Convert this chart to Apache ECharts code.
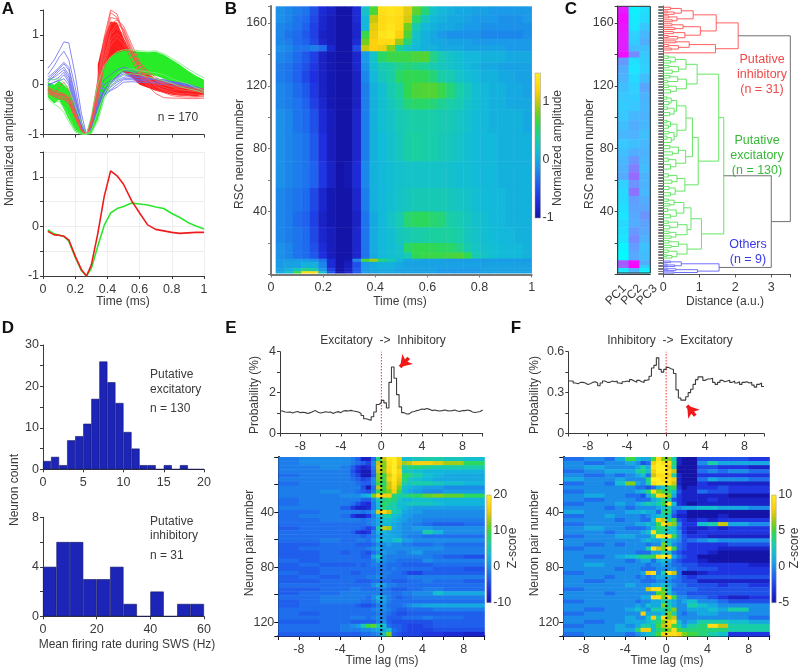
<!DOCTYPE html>
<html>
<head>
<meta charset="utf-8">
<script src="https://cdn.jsdelivr.net/npm/echarts@6/dist/echarts.min.js"></script>
<style>
  html, body { margin: 0; background: #fff; }
  #chart { width: 800px; height: 668px; }
  #chart canvas { filter: blur(.4px); }
</style>
</head>
<body>
<div id="chart"></div>
<script>
// Panel A: waveforms
const waveT = [.03,.07,.1,.13,.16,.2,.24,.27,.3,.34,.38,.42,.46,.5,.55,.6,.65,.7,.75,.8,.85,.9,.95,1];
const blueTraces = [
  [.33,.5,.68,.86,.84,.2,-.6,-1,-.7,-.2,.1,.2,.3,.35,.3,.22,.14,.1,.05,.04,0,-.03,-.08,-.12],
  [.2,.38,.55,.67,.5,-.05,-.75,-1,-.75,-.3,0,.08,.15,.3,.25,.18,.13,.1,.07,.05,.02,-.02,-.05,-.1],
  [.15,.25,.35,.45,.35,-.2,-.8,-1,-.8,-.35,-.1,.05,.18,.25,.2,.15,.12,.1,.1,.05,.05,0,-.05,-.1],
  [.1,.22,.32,.42,.3,-.25,-.8,-1,-.82,-.38,-.12,.02,.12,.2,.18,.14,.14,.12,.08,.06,.03,0,-.06,-.1],
  [.05,.18,.28,.35,.2,-.3,-.85,-1,-.82,-.4,-.15,-.02,.08,.15,.16,.14,.12,.1,.06,.02,.04,.02,-.04,-.12],
  [.1,.15,.22,.3,.15,-.35,-.85,-1,-.85,-.42,-.12,.05,.15,.22,.14,.1,.1,.12,.1,.06,.02,-.02,-.06,-.1],
  [.1,.1,.15,.25,.1,-.4,-.88,-1,-.85,-.45,-.18,-.05,.05,.12,.12,.1,.08,.06,.04,.02,0,-.03,-.08,-.1],
  [0,.05,.1,.2,.05,-.45,-.9,-1,-.85,-.45,-.2,-.1,0,.1,.1,.08,.06,.04,.03,.02,0,-.04,-.08,-.12],
  [-.02,.05,.08,.12,0,-.5,-.9,-1,-.88,-.48,-.22,-.12,-.05,.05,.06,.05,.04,.02,0,-.02,-.03,-.05,-.1,-.12]
];
const redBandT = [.34,.38,.42,.46,.5,.55,.6,.65,.7,.75,.8,.85,.9,.95,1];
const redBandUp = [.4,.95,1.27,1.25,.95,.62,.36,.22,.12,.06,.02,0,-.03,-.05,-.06];
const redBandLow = [-.45,0,.2,.3,.25,.15,0,-.06,-.12,-.16,-.2,-.22,-.22,-.23,-.2];
const redTraces = [
  [-.05,-.12,-.15,-.18,-.25,-.55,-.9,-1,-.7,.1,.95,1.5,1.42,1.02,.62,.38,.2,.08,0,-.03,-.06,-.08,-.1,-.1],
  [-.1,-.18,-.2,-.22,-.3,-.6,-.9,-1,-.72,.05,.85,1.45,1.35,1.1,.7,.42,.28,.15,.05,.02,-.02,-.05,-.08,-.08],
  [-.12,-.2,-.22,-.25,-.32,-.62,-.92,-1,-.75,0,.8,1.35,1.32,1.05,.65,.3,.12,.02,-.05,-.1,-.1,-.12,-.12,-.12],
  [-.08,-.15,-.2,-.2,-.28,-.58,-.9,-1,-.75,-.05,.7,1.22,1.3,1.18,.82,.46,.25,.1,.02,-.05,-.1,-.12,-.14,-.15],
  [-.15,-.22,-.25,-.28,-.35,-.65,-.92,-1,-.8,-.2,.5,1,1.15,1,.66,.28,.04,-.1,-.16,-.22,-.24,-.25,-.25,-.24],
  [-.18,-.24,-.28,-.3,-.38,-.68,-.94,-1,-.82,-.3,.35,.8,.95,.82,.5,.2,-.02,-.18,-.26,-.27,-.27,-.28,-.28,-.27],
  [-.1,-.16,-.18,-.2,-.3,-.6,-.9,-1,-.78,-.15,.55,1.05,1.22,1.12,.75,.38,.12,-.04,-.12,-.18,-.2,-.22,-.24,-.22],
  [-.2,-.18,-.05,.05,-.1,-.55,-.9,-1,-.8,-.25,.45,.9,1.02,.9,.6,.3,.1,-.02,-.1,-.14,-.18,-.18,-.2,-.2]
];
const greenBandT = waveT;
const greenBandUp = [.05,0,.08,0,-.1,-.45,-.8,-1,-.65,-.02,.35,.55,.64,.68,.68,.66,.65,.66,.6,.5,.4,.28,.18,.1];
const greenBandLow = [-.25,-.38,-.3,-.5,-.7,-.93,-1,-1,-.98,-.7,-.25,.02,.17,.27,.25,.22,.2,.18,.12,.05,0,-.05,-.1,-.15];
const greenTraces = [
  [.12,.1,.12,.05,-.08,-.42,-.78,-1,-.62,.02,.38,.56,.66,.7,.7,.68,.67,.68,.62,.53,.43,.32,.22,.14],
  [-.28,-.4,-.45,-.56,-.74,-.95,-1,-1,-.98,-.74,-.3,-.04,.1,.2,.22,.2,.16,.12,.08,.03,-.04,-.08,-.12,-.17],
  [-.18,-.3,-.34,-.45,-.62,-.9,-.98,-1,-.92,-.55,-.18,.06,.22,.3,.32,.28,.26,.24,.2,.12,.06,.02,-.06,-.12]
];
const redMean = [-.1,-.17,-.18,-.2,-.27,-.6,-.88,-1,-.78,-.15,.6,1.12,1.02,.85,.52,.27,.03,-.06,-.09,-.12,-.14,-.13,-.12,-.12];
const greenMean = [-.07,-.15,-.18,-.2,-.3,-.62,-.9,-1,-.85,-.4,.02,.27,.36,.4,.47,.45,.43,.39,.36,.26,.18,.08,.01,-.05];

// Panel B: amplitude map, rows from top to bottom
const bEdges = [170.6,165,160,155,150,146,142,135,130,122,112,105,90,72,55,40,30,20,14,10,8,4,2,.9];
const bRows = [
  [-.15,-.2,-.25,-.3,-.5,-.75,-.85,-1,-1,-.75,.2,.7,1.35,1.4,1.35,1.1,.75,.5,.2,.1,.05,0,0,-.05,-.05,-.1,-.1,-.1,-.1,-.1],
  [-.15,-.2,-.3,-.35,-.55,-.8,-.9,-1,-1,-.75,.1,1,1.3,1.35,1.3,1.05,.55,.25,.1,.05,0,0,-.05,-.1,-.1,-.1,-.15,-.15,-.15,-.1],
  [-.2,-.25,-.3,-.4,-.6,-.8,-.9,-1,-1,-.8,.1,1.1,1.3,1.4,1.3,.8,.3,.1,.05,0,0,-.05,-.1,-.1,-.15,-.15,-.15,-.15,-.15,-.15],
  [-.2,-.3,-.35,-.45,-.6,-.85,-.9,-1,-1,-.8,.65,1.15,1.4,1.45,1.2,.7,.2,.05,0,-.1,-.15,-.15,-.15,-.15,-.2,-.2,-.2,-.2,-.2,-.15],
  [-.2,-.25,-.35,-.4,-.55,-.8,-.9,-1,-1,-.75,.8,1.2,1.3,1.3,.9,.5,.15,.05,0,0,-.05,-.05,-.05,-.1,-.1,-.1,-.1,-.1,-.1,-.1],
  [-.15,-.2,-.3,-.3,-.25,-.35,-.8,-1,-1,-.55,1,1.2,1.15,.85,.4,.2,.1,.05,.05,0,0,0,-.05,-.05,-.05,-.05,-.05,-.1,-.1,-.1],
  [-.2,-.25,-.35,-.45,-.6,-.85,-.95,-1,-1,-.8,-.1,.2,.55,.65,.65,.65,.7,.72,.45,.3,.2,.15,.1,.1,.05,.05,.05,0,0,0],
  [-.25,-.3,-.4,-.5,-.65,-.85,-.95,-1,-1,-.8,-.15,.15,.3,.35,.45,.5,.45,.4,.3,.25,.2,.15,.1,.05,0,0,-.05,-.05,-.05,-.05],
  [-.25,-.3,-.4,-.55,-.7,-.85,-.95,-1,-1,-.85,-.2,.1,.25,.35,.55,.62,.62,.6,.5,.35,.3,.2,.15,.1,.05,.05,0,0,-.05,-.05],
  [-.2,-.25,-.35,-.45,-.65,-.85,-.95,-1,-1,-.85,-.25,.05,.15,.3,.4,.62,.7,.72,.72,.65,.5,.35,.25,.15,.1,.05,.05,0,0,-.05],
  [-.2,-.25,-.3,-.4,-.6,-.8,-.95,-1,-1,-.85,-.25,.05,.15,.25,.35,.5,.55,.55,.5,.42,.35,.3,.2,.15,.1,.05,.05,0,0,0],
  [-.15,-.2,-.3,-.35,-.5,-.75,-.9,-1,-1,-.8,-.25,.05,.15,.2,.28,.32,.35,.35,.33,.3,.28,.22,.18,.12,.1,.05,.05,.05,.05,0],
  [-.15,-.2,-.25,-.3,-.45,-.7,-.9,-1,-1,-.8,-.25,.05,.12,.18,.25,.35,.38,.35,.32,.28,.25,.2,.15,.12,.1,.1,.05,.05,.05,.05],
  [-.15,-.2,-.25,-.3,-.4,-.65,-.85,-1,-.95,-.75,-.2,.05,.1,.15,.18,.2,.2,.2,.2,.2,.18,.15,.15,.12,.1,.1,.05,.05,.05,.05],
  [-.2,-.25,-.3,-.35,-.55,-.8,-.95,-1,-1,-.8,-.25,.05,.1,.15,.2,.25,.28,.28,.28,.28,.25,.22,.2,.15,.12,.1,.1,.05,.05,.05],
  [-.2,-.25,-.35,-.4,-.6,-.85,-.95,-1,-1,-.85,-.3,0,.1,.2,.3,.52,.58,.58,.52,.5,.35,.3,.25,.18,.15,.1,.1,.05,.05,.05],
  [-.2,-.25,-.3,-.35,-.55,-.8,-.9,-1,-1,-.8,-.3,.02,.1,.15,.25,.3,.32,.35,.38,.38,.38,.32,.25,.2,.15,.12,.1,.1,.05,.05],
  [-.15,-.2,-.3,-.35,-.5,-.75,-.9,-1,-1,-.8,-.3,.02,.1,.15,.2,.55,.62,.62,.6,.58,.55,.45,.3,.22,.18,.15,.12,.1,.1,.05],
  [-.15,-.2,-.3,-.35,-.45,-.7,-.9,-1,-1,-.8,-.3,0,.1,.15,.2,.3,.62,.65,.65,.65,.68,.7,.62,.3,.2,.15,.12,.1,.1,.05],
  [-.1,-.1,-.1,-.1,-.15,-.3,-.75,-1,-.95,-.2,.7,.9,.5,.3,.1,0,0,-.05,-.05,-.05,-.1,-.1,-.1,-.1,-.1,-.1,-.1,-.1,-.1,-.1],
  [-.1,-.05,-.05,.05,.05,-.2,-.75,-1,-.9,-.5,-.1,0,.05,.05,0,-.05,-.05,-.05,-.05,-.05,-.05,-.05,-.05,-.05,-.05,-.05,-.05,-.05,-.05,-.05],
  [-.05,.05,.25,.45,.35,-.1,-.6,-1,-.85,-.45,-.1,0,0,0,-.05,-.05,-.05,-.05,-.05,-.1,-.1,-.1,-.1,-.1,-.05,-.05,-.05,-.05,-.05,-.05],
  [0,.1,.65,1.3,1.3,.2,-.5,-1,-.85,-.45,-.1,-.05,0,0,-.05,-.05,-.05,-.05,-.05,-.1,-.1,-.1,-.1,-.1,-.05,-.05,-.05,-.05,-.05,-.05]
];
const bColStart = .018, bColStep = .0327;

// Panel C: PC scores (0 = cyan, 1 = magenta) and the dendrogram
const pcLabels = ['PC1','PC2','PC3'];
const pcEdges = [170.6,166,160,155,150,146,142,138,133,128,122,116,110,104,98,92,86,80,75,70,65,60,55,50,45,40,35,30,25,20,15,9,6,4,2,.9];
const pcRows = [
  [.9,.06,.12],[.95,.08,.14],[.92,.1,.22],[.9,.18,.28],[.88,.2,.32],[.88,.25,.25],[.95,.45,.22],
  [.4,.12,.2],[.32,.1,.18],[.3,.15,.25],[.25,.18,.35],[.22,.2,.3],[.2,.22,.28],[.22,.28,.3],
  [.25,.32,.28],[.28,.3,.25],[.22,.25,.28],[.25,.32,.3],[.28,.42,.28],[.3,.5,.26],[.32,.58,.3],
  [.18,.42,.3],[.15,.55,.28],[.14,.38,.32],[.12,.36,.35],[.1,.34,.42],[.14,.32,.36],[.12,.4,.34],
  [.1,.46,.3],[.04,.38,.24],[.02,.34,.26],[.65,.95,.32],[.6,1,.2],[.08,.3,.08],[.1,.28,.04]
];
const redTree = [2.08,
  [1.47,
    [.83, [.5,[.2,170,168.5],[.3,[.12,167.5,166.5],165.5]], [.38,[.15,164.5,163.2],[.25,162,160.8]]],
    [1.03, [.55,[.24,159.5,158.2],[.32,157,155.8]], [.6,[.28,154.5,153.2],[.4,[.14,152,150.8],149.8]]]],
  [1.45,
    [.72, [.35,148.6,147.4], [.42,[.15,146.2,145],[.22,144,142.8]]],
    141]];
const greenTree = [1.68,
  [1.54,
    [.94,
      [.63, [.33,[.14,139,137.5],[.2,136,134.5]], [.42,[.16,133,131.5],[.25,130,128]]],
      [.64, [.4,[.18,126.5,125],[.12,123.5,122]], [.36,[.15,120.5,119],[.2,117.5,115.5]]]],
    [.97,
      [.81,
        [.63,
          [.37,[.22,[.1,113,111.5],[.16,110,108]],[.3,[.12,106.5,105],[.18,103,101]]],
          [.38,[.2,[.1,98,96.5],[.14,95,93]],[.3,[.16,91,89.5],[.22,[.1,88,86],84]]]],
        [.62,
          [.42,[.18,82,80],[.26,78,76]],
          [.35,[.14,74,72],[.2,70,67]]]],
      [.6, [.38,[.14,64,62],[.24,60,58]], [.33,[.16,56,54],[.2,52,50]]]]],
  [1.06,
    [.77,
      [.57, [.3,[.14,48,46.5],[.18,45,43.5]], [.36,[.12,42,40],[.2,38,36]]],
      [.66, [.4,[.14,34,32.5],[.18,31,29]], [.35,[.16,27.5,26],[.22,24.5,23]]]],
    [.66, [.42,[.16,21.5,20],[.22,18.5,17]], [.38,[.14,15.5,14],[.24,[.1,12.5,11.5],10.4]]]]];
const blueTree = [1.55,
  [.5, [.2,8.5,7.5], [.32,[.1,6.5,5.5],5]],
  [.95, [.35,[.12,4,3.2],2.4], [.3,1.6,.8]]];
const rootDist = 3.53, subRootDist = 3;

// Panel D: histograms
const excCounts = [2,3,1,7,8,11,17,26,21,16,9,5,1,1,0,1,0,1,0,0];
const inhCounts = [4,6,6,3,3,4,1,0,2,0,1,1];
const excBin = 1, inhBin = 5;

// Panels E and F: cross-correlograms, 0.25 ms bins from -10 ms
const ccgStart = -10, ccgBin = .25;
const ccgE = [
  1.1,1.05,1.04,1.05,1,1.05,1.08,1.02, 1.04,1.02,.98,1.02,1.08,1.12,1.04,1,
  1.03,1.06,1.04,1.05,.98,1.04,1.07,1.02, 1.1,1.12,1.1,1.13,1.1,1.08,1.05,.98,
  .88,.72,.68,.65,.82,1.05,1.42,1.5, 1.62,1.5,1.25,2.5,3.25,2.7,1.9,1.3,
  1.02,.95,.96,1.05,1.08,1.12,1.15,1.2, 1.18,1.22,1.18,1.12,1.15,1.12,1.1,1.12,
  1.15,1.12,1.1,1.12,1.15,1.1,1.08,1.12, 1.12,1.15,1.12,1.05,1.03,1.05,1.08,1.15,1.15
];
const ccgF = [
  .385,.385,.37,.365,.375,.375,.37,.36, .365,.375,.38,.37,.35,.37,.385,.375,
  .375,.385,.38,.385,.37,.365,.38,.385, .38,.395,.385,.375,.39,.38,.375,.39,
  .395,.42,.48,.5,.555,.47,.45,.47, .485,.475,.47,.44,.32,.26,.245,.245,
  .27,.3,.325,.36,.395,.415,.415,.39, .4,.4,.405,.375,.36,.375,.39,.38,
  .385,.39,.375,.385,.37,.38,.36,.375, .38,.37,.375,.355,.34,.36,.37,.345,.35
];

// z-score maps, rows from pair 1 down to pair 130
const zEdgesE = [-10,-8,-6,-4,-3,-2.5,-2,-1.5,-1,-.5,0,.5,1,1.5,2,2.5,3,4,5,6,8,10];
const zRowsE = [
  [-1,0,0,0,-1,-3,-8,-8,-2,8,14,19,20,16,4,4,5,6,6,5,4],
  [-1,0,0,0,-1,-2,-3,-5,0,14,12,18,20,16,13,14,16,16,15,13,9],
  [-1,-1,0,-1,-3,-6,-8,-7,-1,15,12,17,20,15,6,8,8,7,6,6,6],
  [-1,-1,-1,-1,-4,-7,-9,-9,-2,14,13,17,20,17,5,5,4,3,3,3,3],
  [-2,-1,-1,-1,-3,-5,-9,-9,-3,12,10,15,19,16,9,8,6,4,3,2,2],
  [-1,-1,-1,-1,-2,-3,-5,-4,0,12,10,16,19,15,8,5,4,3,2,2,2],
  [-2,-1,-1,-1,-1,-2,-3,-3,0,10,8,14,18,14,6,5,6,6,5,4,3],
  [-1,-1,-1,-1,-1,-1,-4,-9,-2,14,10,14,17,12,4,3,2,1,1,0,0],
  [-1,-1,0,-1,-1,-2,-3,-4,-1,9,10,12,16,10,3,2,1,0,0,1,1],
  [-1,-1,-1,0,0,0,2,3,12,17,16,16,8,6,7,8,9,11,12,11,9],
  [-2,-1,-1,-1,-1,-1,-3,-3,0,5,7,9,8,5,3,3,4,4,3,3,3],
  [-2,-1,-1,-1,-2,-4,-6,-7,-1,4,9,7,6,4,4,5,5,5,4,3,3],
  [-1,-1,-1,-3,-6,-8,-8,-7,-1,4,8,6,6,4,3,2,1,1,1,1,1],
  [-2,-2,-1,-1,-1,-1,-2,-1,1,15,17,14,6,5,2,1,1,0,0,0,0],
  [-2,-1,-1,-2,-6,-8,-8,-6,-1,3,6,6,4,3,1,1,0,0,0,0,0],
  [-2,-2,-1,-1,-1,-1,-2,-1,0,2,4,4,3,2,1,0,0,-1,-1,-1,-1],
  [-2,-2,-2,-2,-2,-2,-2,-1,0,2,3,3,2,1,0,0,-1,-2,-3,-3,-2],
  [-3,-2,-2,-2,-2,-2,-3,-5,-3,6,14,13,2,1,0,0,1,1,0,0,0],
  [-2,-2,-2,-2,-3,-6,-7,-6,-1,3,3,2,1,1,0,0,0,6,3,0,0],
  [-2,-2,-2,-2,-2,-2,-3,-2,-1,1,2,2,2,1,0,-1,-1,-2,-2,-2,-2],
  [-2,-2,-1,-2,-2,-1,-1,-2,0,3,3,2,4,5,1,1,0,0,0,0,0],
  [-3,-3,-2,-2,-2,-3,-3,-3,-2,0,0,1,0,0,-1,-1,-2,-2,-1,-2,-2],
  [-3,-2,-2,-2,-2,-2,-2,-1,0,2,0,0,0,0,0,0,0,0,0,-1,-1],
  [-3,-3,-2,-3,-2,-2,-3,-4,-2,0,1,0,0,-1,-1,0,1,-1,-1,-1,-1],
  [-3,-3,-2,-2,-2,-2,-3,-3,1,5,0,-1,-1,-1,-1,-1,-1,-1,-2,-3,-4],
  [-2,-3,-2,-2,-2,-2,-2,-2,-1,2,0,-1,-1,-2,-2,-2,-2,0,-1,-1,-1],
  [-3,-2,-3,-3,-3,-2,-3,-2,-1,-1,-1,-2,-2,-2,-3,-3,-3,-3,-2,-2,-2],
  [-3,-3,-2,-2,-2,-2,-2,-2,-2,-1,-1,-2,-1,-2,-2,-2,-2,-2,-3,-3,-4],
  [-2,-3,-2,-2,-3,-3,-2,-2,-2,-1,-1,-1,-2,-2,-3,-5,-5,-3,-3,-3,-3],
  [-3,-2,-3,-2,-2,-2,-2,-1,-1,0,-1,-2,-2,-2,-2,-1,-1,-1,-1,-1,-1],
  [-3,-3,-2,-2,-2,-3,-3,-3,-2,-2,-2,-2,-3,-3,-3,-2,-2,-1,-2,-2,-3],
  [-2,-2,-2,-2,-2,-2,-2,-2,0,2,1,-1,-1,-2,-2,-2,-2,-2,-2,-2,-2],
  [-3,-3,-2,-2,-1,-1,-2,-2,-2,-1,-1,-2,-3,-3,-3,-2,-2,-1,-1,-2,-2],
  [-3,-2,-2,-1,-1,-1,-1,-1,-1,-1,-1,-1,-2,-2,-1,-1,0,0,4,2,2],
  [-2,-2,-1,-1,-1,-1,-1,-2,0,3,1,-1,-2,-3,-2,-2,-1,-1,-1,-1,-1],
  [-3,-2,-1,-1,-1,-1,-2,-2,-1,1,1,-1,-2,-2,-2,-2,-2,-2,-2,-2,-2],
  [-3,-2,-2,-2,-2,-3,-4,-4,-3,-1,0,-2,-2,-2,-1,0,1,2,2,2,2],
  [-2,-2,-2,-2,-2,-2,-2,-2,-1,0,0,-1,-2,-3,-3,-2,-2,-2,-1,-1,-1],
  [-2,-3,-2,-2,-2,-2,-2,-2,-2,-1,-1,-2,-3,-4,-4,-3,-3,-3,-3,-3,-3],
  [-2,-2,-2,-2,-1,-1,-1,-2,-1,0,-1,-3,-3,-3,-2,-2,-2,-1,-2,-2,-3],
  [-3,-3,-2,-2,-3,-3,-3,-3,-3,-1,0,-3,-4,-4,-4,-4,-4,-4,-3,-3,-3],
  [-2,-2,-2,-1,0,1,5,10,11,6,4,-2,-3,-3,-4,-5,-5,-4,-3,-3,-3],
  [-2,-2,-2,-1,-1,-1,0,0,1,2,2,4,-2,-3,-4,-5,-5,-5,-4,-4,-4],
  [-3,-3,-3,-3,-3,-3,-2,-2,-1,0,5,12,-3,-4,-5,-5,-5,-6,-6,-7,-8]
];
const zEdgesF = [-10,-8,-6,-5,-4,-3,-2.5,-2,-1.5,-1,-.5,0,.5,1,1.5,2,3,4,5,6,8,10];
const zRowsF = [
  [-1,0,-1,1,5,2,1,1,5,9,6,6,3,-4,-5,-5,-2,-2,-2,-2,-3],
  [0,-1,0,0,1,0,-2,-1,8,10,9,9,4,-4,-5,-5,0,3,1,1,1],
  [0,1,0,0,0,1,3,1,9,10,10,8,3,-5,-5,-5,-2,-2,-3,-3,-4],
  [-1,0,1,1,1,3,4,2,8,10,10,9,7,-5,-5,-5,-1,0,-1,0,-1],
  [0,-1,0,-1,0,1,2,-1,7,9,9,8,3,-4,-5,-5,-3,-3,-3,-3,-3],
  [1,0,0,1,0,0,0,4,10,10,9,9,8,-4,-5,-5,-1,1,0,0,-1],
  [-1,0,-1,2,6,1,0,3,9,10,10,9,7,-4,-5,-5,-3,-4,-4,-4,-4],
  [0,0,0,0,0,-1,-1,-2,-1,1,2,4,5,-3,-5,-4,-3,-3,-2,-3,-3],
  [-1,0,0,0,0,1,2,4,9,6,5,4,2,-2,-4,-4,-1,-2,-2,-3,-3],
  [0,1,0,0,-1,-1,-2,1,4,9,8,6,1,-3,-4,-4,-4,-4,-4,-5,-5],
  [0,-1,0,0,0,-1,-1,-1,1,2,4,3,-2,-3,-4,-4,-4,-3,-4,-4,-4],
  [-1,0,0,1,0,1,2,3,2,3,5,9,2,-3,-4,-5,-4,-4,-4,-4,-4],
  [0,0,-1,0,-1,0,0,0,0,1,2,3,0,0,1,1,2,2,1,1,0],
  [1,0,0,0,1,1,2,1,1,-1,4,4,-1,-3,-3,-5,-5,-5,-5,-5,-5],
  [-1,0,1,0,0,0,-1,0,1,2,3,2,-2,-4,-4,-5,-5,-5,-4,-5,-5],
  [0,0,0,-1,0,0,-1,-1,2,8,7,3,5,-2,-3,-4,-3,-4,-3,-3,-3],
  [-1,0,0,0,0,1,1,2,1,5,9,7,6,0,-3,-3,2,3,7,1,0],
  [0,1,0,0,-1,-1,-1,0,2,4,4,3,2,-1,-3,-4,-4,-3,-4,-3,-3],
  [0,0,-1,0,0,0,1,2,9,4,3,2,2,0,-3,-4,-3,-3,-3,-3,-3],
  [-1,0,0,1,1,0,0,0,3,10,9,9,5,0,-2,-3,-3,-4,-4,-4,-4],
  [0,0,0,0,0,0,1,2,1,1,3,2,1,0,-2,-1,0,1,0,0,0],
  [0,-1,0,-1,0,0,0,-1,0,0,6,3,0,-1,-2,-3,-3,-3,-3,-2,-2],
  [-1,0,0,0,0,0,0,3,9,7,6,9,5,-1,-2,-3,-3,-3,-4,-4,-4],
  [0,0,0,0,0,-1,-1,-1,1,1,3,2,-1,-2,-3,-3,-3,-4,-5,-5,-5],
  [0,-1,0,1,2,3,4,4,5,9,10,9,1,-1,-2,-3,-5,-5,-5,-5,-5],
  [0,0,0,0,-1,0,1,1,-1,1,2,1,-1,-2,-3,-3,-4,-5,-5,-5,-5],
  [0,1,0,0,0,0,0,-1,0,0,1,0,-1,-1,-2,-2,-3,-3,-3,-3,-4],
  [0,0,0,-1,0,0,-1,-1,-1,0,0,0,0,-1,-1,-2,-2,-2,-3,-3,-3],
  [-1,0,0,0,0,0,1,8,9,0,3,9,7,-1,-5,-5,-4,-3,-3,-3,-3],
  [0,0,-1,0,0,-1,0,-1,0,1,1,1,0,-1,-2,-3,-2,-2,-2,-2,-2],
  [0,-1,0,0,0,0,-1,-1,-1,0,0,0,-1,-1,-2,-2,-4,-4,-4,-4,-4],
  [0,0,0,0,1,0,0,0,1,1,2,1,0,-1,-1,-2,-2,-2,-3,-2,-3],
  [-1,0,0,0,0,0,0,7,9,9,5,2,-1,-1,-1,-1,-2,-2,-2,-2,-2],
  [0,0,-1,0,0,0,0,0,0,5,6,2,0,-1,-1,-2,-2,-2,-2,-2,-2],
  [0,0,0,0,0,0,1,1,9,9,6,8,5,0,0,-1,-1,-2,-3,-4,-3],
  [-1,0,0,0,0,-1,0,0,1,1,3,2,1,0,1,2,0,0,-1,-2,-2],
  [0,0,0,0,0,1,0,2,1,1,6,3,1,0,0,3,2,1,0,0,0],
  [0,-1,0,0,1,2,1,0,3,3,3,4,6,0,0,1,1,2,1,3,0],
  [-1,0,0,0,0,0,8,1,1,1,2,6,3,0,-1,0,1,1,0,0,0],
  [0,0,0,0,1,0,0,2,8,3,9,6,7,0,0,0,0,0,0,0,-1],
  [0,-1,0,0,1,1,1,2,3,4,6,8,9,2,0,1,3,3,3,2,1],
  [-1,0,0,1,0,1,3,3,2,5,7,8,5,3,1,3,4,9,7,3,3],
  [0,0,0,1,1,4,8,8,2,4,5,6,9,5,4,4,4,4,4,3,3],
  [-1,0,0,0,-1,0,1,2,3,5,8,9,9,8,6,5,4,3,2,-3,-3]
];
const pairCount = 130;

// colours
const ink = "#3a3a3a";
const fontFamily = "Liberation Sans, Arial, sans-serif";
const parula = [
  [0,"#1414a8"],[.12,"#1f2fe0"],[.25,"#1f66ee"],[.36,"#1a9ae8"],[.45,"#12bcd8"],[.55,"#1ad0a0"],
  [.65,"#30d850"],[.72,"#70d020"],[.8,"#c8c810"],[.88,"#ffd010"],[1,"#ffee20"]
];
const coolStops = [[0,"#00ffff"],[1,"#ff00ff"]];

function hexToRgb(h) {
  return [1, 3, 5].map(i => parseInt(h.slice(i, i + 2), 16));
}

function colorAt(stops, t) {
  t = Math.max(0, Math.min(1, t));
  for (let i = 1; i < stops.length; i++) {
    if (t <= stops[i][0]) {
      const f = (t - stops[i - 1][0]) / (stops[i][0] - stops[i - 1][0]);
      const a = hexToRgb(stops[i - 1][1]), b = hexToRgb(stops[i][1]);
      return "rgb(" + a.map((c, k) => Math.round(c + (b[k] - c) * f)).join(",") + ")";
    }
  }
  return stops[stops.length - 1][1];
}

const grids = [], xAxes = [], yAxes = [], series = [], texts = [];

function makeAxis(gridIndex, cfg) {
  const labels = cfg.labels;
  return Object.assign({
    gridIndex,
    type: "value",
    min: cfg.min,
    max: cfg.max,
    interval: cfg.interval,
    splitLine: { show: false },
    axisLine: { onZero: false, lineStyle: { color: cfg.lineColor || ink, width: cfg.lineWidth || 1 } },
    axisTick: { show: cfg.tick !== false, length: cfg.tickLength || 3, lineStyle: { color: cfg.lineColor || ink } },
    axisLabel: {
      show: !!labels,
      color: ink,
      fontSize: 12.5,
      fontFamily,
      margin: cfg.margin || 4,
      hideOverlap: false,
      showMinLabel: true,
      showMaxLabel: true,
      formatter: v => (labels && labels.some(l => Math.abs(l - v) < 1e-6) ? String(v) : ""),
    },
  }, cfg.extra || {});
}

function panel(left, top, width, height, xCfg, yCfg) {
  const idx = grids.length;
  grids.push({ left, top, width, height, containLabel: false });
  xAxes.push(makeAxis(idx, Object.assign({ margin: 7 }, xCfg)));
  yAxes.push(makeAxis(idx, yCfg));
  return idx;
}

function rectSeries(idx, cells, colorOf) {
  series.push({
    type: "custom",
    xAxisIndex: idx,
    yAxisIndex: idx,
    silent: true,
    animation: false,
    clip: false,
    data: cells,
    renderItem: (params, api) => {
      const a = api.coord([api.value(0), api.value(2)]);
      const b = api.coord([api.value(1), api.value(3)]);
      return {
        type: "rect",
        shape: {
          x: Math.min(a[0], b[0]),
          y: Math.min(a[1], b[1]),
          width: Math.abs(b[0] - a[0]) + .5,
          height: Math.abs(b[1] - a[1]) + .5,
        },
        style: { fill: colorOf(api.value(4)) },
      };
    },
  });
}

function lineSeries(idx, data, color, width, extra) {
  series.push(Object.assign({
    type: "line",
    xAxisIndex: idx,
    yAxisIndex: idx,
    data,
    showSymbol: false,
    silent: true,
    animation: false,
    lineStyle: { color, width },
  }, extra || {}));
}

function bandSeries(idx, t, up, low, color) {
  series.push({
    type: "custom",
    xAxisIndex: idx,
    yAxisIndex: idx,
    silent: true,
    animation: false,
    data: [[t[0], up[0]]],
    renderItem: (params, api) => {
      const pts = t.map((x, i) => api.coord([x, up[i]]))
        .concat(t.map((x, i) => api.coord([x, low[i]])).reverse());
      return { type: "polygon", shape: { points: pts }, style: { fill: color } };
    },
  });
}

function colorbar(left, top, width, height, min, max, interval, labels) {
  const idx = panel(left, top, width, height,
    { min: 0, max: 1, tick: false, extra: { show: false } },
    { min, max, interval, labels, tick: false, margin: 2, extra: { position: "right", axisLine: { show: false } } });
  series.push({
    type: "custom",
    xAxisIndex: idx,
    yAxisIndex: idx,
    silent: true,
    animation: false,
    clip: false,
    data: [[0, 1, min, max]],
    renderItem: (params, api) => {
      const a = api.coord([api.value(0), api.value(3)]);
      const b = api.coord([api.value(1), api.value(2)]);
      return {
        type: "rect",
        shape: { x: a[0], y: a[1], width: b[0] - a[0], height: b[1] - a[1] },
        style: {
          fill: new echarts.graphic.LinearGradient(0, 1, 0, 0, parula.map(s => ({ offset: s[0], color: s[1] }))),
          stroke: "#999",
          lineWidth: .5,
        },
      };
    },
  });
}

function txt(x, y, text, opt) {
  opt = opt || {};
  texts.push({
    type: "text",
    x, y,
    rotation: opt.angle || (opt.rotate ? Math.PI / 2 : 0),
    silent: true,
    style: {
      text,
      fill: opt.color || ink,
      fontSize: opt.size || 12,
      fontFamily,
      fontWeight: opt.weight || "normal",
      align: opt.align || "center",
      verticalAlign: "middle",
    },
  });
}

// A top: single waveforms
const a1 = panel(43, 10, 161, 124.5,
  { min: 0, max: 1, interval: .2 },
  { min: -1, max: 1.5, interval: .5, labels: [-1, 0, 1] });
blueTraces.forEach(tr => lineSeries(a1, waveT.map((t, i) => [t, tr[i]]), "#6a6af0", .8));
bandSeries(a1, redBandT, redBandUp, redBandLow, "#ff1c1c");
redTraces.forEach(tr => lineSeries(a1, waveT.map((t, i) => [t, tr[i]]), "#ff5050", .8));
bandSeries(a1, greenBandT, greenBandUp, greenBandLow, "#28ec28");
greenTraces.forEach(tr => lineSeries(a1, waveT.map((t, i) => [t, tr[i]]), "#70ee70", .8));

// A bottom: averages
const a2 = panel(43, 152, 161, 124,
  { min: 0, max: 1, interval: .2, labels: [0, .2, .4, .6, .8, 1],
    extra: { splitLine: { show: true, lineStyle: { color: "#eeeeee", width: 1 } } } },
  { min: -1, max: 1.5, interval: .5, labels: [-1, 0, 1],
    extra: { splitLine: { show: true, lineStyle: { color: "#eeeeee", width: 1 } } } });
lineSeries(a2, waveT.map((t, i) => [t, greenMean[i]]), "#2ee62e", 1.6);
lineSeries(a2, waveT.map((t, i) => [t, redMean[i]]), "#ee1c1c", 1.6);

// B: amplitude heat map
const axisGray = "#777777";
const b = panel(271, 6, 260.7, 268.4,
  { min: 0, max: 1, interval: .2, labels: [0, .2, .4, .6, .8, 1], lineColor: axisGray, lineWidth: 2 },
  { min: 0, max: 170.8, interval: 20, labels: [40, 80, 120, 160], lineColor: axisGray, lineWidth: 2 });
const bCells = [];
bRows.forEach((row, r) => row.forEach((v, c) => {
  const x0 = bColStart + c * bColStep;
  bCells.push([x0, Math.min(1, x0 + bColStep), bEdges[r + 1], bEdges[r], v]);
}));
rectSeries(b, bCells, v => colorAt(parula, (v + 1) / 2.5));
colorbar(535, 73, 5.5, 145, -1, 1.5, 1, [-1, 0, 1]);

// C: PC heat map, its category axis for the ticks is added after all panels
const c1 = panel(617.7, 6, 32.6, 268.4,
  { min: 0, max: 3, tick: false, extra: { show: false } },
  { min: 0, max: 170.8, interval: 20, labels: [40, 80, 120, 160] });
const pcCells = [];
pcRows.forEach((row, r) => row.forEach((v, c) => pcCells.push([c, c + 1, pcEdges[r + 1], pcEdges[r], v])));
rectSeries(c1, pcCells, v => colorAt(coolStops, v));
// frame of the PC map
series.push({
  type: "custom", xAxisIndex: c1, yAxisIndex: c1, silent: true, animation: false, clip: false, data: [[0, 3, 0.9, 170.6]],
  renderItem: (params, api) => {
    const a = api.coord([api.value(0), api.value(3)]);
    const e = api.coord([api.value(1), api.value(2)]);
    return { type: "rect", shape: { x: a[0], y: a[1], width: e[0] - a[0], height: e[1] - a[1] },
      style: { fill: "none", stroke: "#333", lineWidth: 1 } };
  },
});

// C: dendrogram, every merge is one U-shaped polyline
const c2 = panel(663.3, 6, 127.4, 268.4,
  { min: 0, max: 3.54, interval: 1, labels: [0, 1, 2, 3], lineColor: "#555" },
  { min: 0, max: 170.8, interval: 1, tickLength: 5, lineColor: "#555", extra: { axisTick: { length: 5, lineStyle: { color: "#777", width: 1 } } } });

function walk(node, out) {
  if (typeof node === "number") return { d: 0, y: node };
  const p = walk(node[1], out), q = walk(node[2], out);
  out.push({ coords: [[p.d, p.y], [node[0], p.y], [node[0], q.y], [q.d, q.y]] });
  return { d: node[0], y: (p.y + q.y) / 2 };
}

function linkSeries(links, color) {
  series.push({
    type: "lines",
    coordinateSystem: "cartesian2d",
    xAxisIndex: c2,
    yAxisIndex: c2,
    polyline: true,
    silent: true,
    animation: false,
    clip: false,
    lineStyle: { color, width: 1, opacity: 1 },
    data: links,
  });
}

const redLinks = [], greenLinks = [], blueLinks = [];
const redTop = walk(redTree, redLinks);
const greenTop = walk(greenTree, greenLinks);
const blueTop = walk(blueTree, blueLinks);
const subY = (greenTop.y + blueTop.y) / 2;
const grayLinks = [
  { coords: [[greenTop.d, greenTop.y], [subRootDist, greenTop.y], [subRootDist, blueTop.y], [blueTop.d, blueTop.y]] },
  { coords: [[redTop.d, redTop.y], [rootDist, redTop.y], [rootDist, subY], [subRootDist, subY]] },
];
linkSeries(redLinks, "#ff6060");
linkSeries(greenLinks, "#66e666");
linkSeries(blueLinks, "#7070ff");
linkSeries(grayLinks, "#707070");

// D: histograms
const d1 = panel(43, 345, 161, 124.3,
  { min: 0, max: 20, interval: 5, labels: [0, 5, 10, 15, 20] },
  { min: 0, max: 30, interval: 5, labels: [0, 10, 20, 30] });
const d2 = panel(43, 517.3, 161, 99,
  { min: 0, max: 60, interval: 20, labels: [0, 20, 40, 60] },
  { min: 0, max: 8, interval: 2, labels: [0, 4, 8] });

function histSeries(idx, counts, bin, width) {
  series.push({
    type: "bar",
    xAxisIndex: idx,
    yAxisIndex: idx,
    barWidth: width,
    silent: true,
    animation: false,
    data: counts.map((n, i) => [(i + .5) * bin, n]),
    itemStyle: { color: "#1c25b8", borderColor: "#14185e", borderWidth: .6 },
  });
}
histSeries(d1, excCounts, excBin, 8.05);
histSeries(d2, inhCounts, inhBin, 13.4);

// E and F: correlogram on top, z-score map below
function ccgPanel(left, width, yMax, yInterval, yLabels, values, arrowFrom, arrowTo) {
  const idx = panel(left, 351.7, width, 81.8,
    { min: -10, max: 10, interval: 2, labels: [-8, -4, 0, 4, 8] },
    { min: 0, max: yMax, interval: yInterval, labels: yLabels });
  lineSeries(idx, [[0, 0], [0, yMax]], "#ff3030", 1, { lineStyle: { color: "#ff3030", width: 1, type: [1.5, 1.5] } });
  lineSeries(idx, values.map((v, i) => [ccgStart + i * ccgBin, v]), "#3c3c3c", 1.1, {
    step: "end",
    markLine: {
      silent: true,
      animation: false,
      lineStyle: { color: "#f01818", width: 3.5, type: "solid" },
      label: { show: false },
      symbolSize: 11,
      data: [[{ coord: arrowFrom, symbol: "none" }, { coord: arrowTo, symbol: "arrow" }]],
    },
  });
}

function zPanel(left, edges, rows, zMin, zMax) {
  const idx = panel(left, 457, 206, 179,
    { min: -10, max: 10, interval: 2, labels: [-8, -4, 0, 4, 8], lineColor: "#111", lineWidth: 2, tickLength: 4 },
    { min: 0, max: pairCount, interval: 20, labels: [40, 80, 120], lineColor: "#111", lineWidth: 2, tickLength: 4, extra: { inverse: true } });
  const cells = [];
  const rowH = pairCount / rows.length;
  rows.forEach((row, r) => row.forEach((v, c) => cells.push([edges[c], edges[c + 1], r * rowH, (r + 1) * rowH, v])));
  rectSeries(idx, cells, v => colorAt(parula, (v - zMin) / (zMax - zMin)));
  lineSeries(idx, [[0, 0], [0, pairCount]], "#000", 2, { z: 5, lineStyle: { color: "#000", width: 2, type: [2, 2] } });
}

ccgPanel(280, 202.7, 4, 1, [0, 2, 4], ccgE, [2.7, 3.7], [1.85, 3.25]);
zPanel(278.3, zEdgesE, zRowsE, -10, 20);
colorbar(486.7, 495, 4.5, 107.7, -10, 20, 10, [-10, 0, 10, 20]);

ccgPanel(568.3, 195.7, .6, .15, [0, .3, .6], ccgF, [2.97, .13], [2.15, .205]);
zPanel(563.3, zEdgesF, zRowsF, -5, 10);
colorbar(771.7, 495, 4.5, 107.7, -5, 10, 5, [-5, 0, 5, 10]);

// the PC axis comes last so axis indexes stay equal to grid indexes above
xAxes.push({
  gridIndex: c1,
  type: "category",
  position: "bottom",
  data: pcLabels,
  axisLine: { onZero: false, lineStyle: { color: ink, width: 1 } },
  axisTick: { alignWithLabel: true, length: 3, lineStyle: { color: ink } },
  axisLabel: { show: false },
});

// Text outside the axes
[["A", 8, 9], ["B", 231, 9], ["C", 571, 9], ["D", 8, 328], ["E", 231, 328], ["F", 516, 328]]
  .forEach(p => txt(p[1], p[2], p[0], { size: 17, weight: "bold", color: "#111" }));

pcLabels.forEach((s, i) => txt(616 + i * 15.5, 295, s, { angle: Math.PI / 4 }));

txt(10, 148, "Normalized amplitude", { rotate: true });
txt(178, 118, "n = 170");
txt(123, 302, "Time (ms)");
txt(240, 154, "RSC neuron number", { rotate: true });
txt(400, 302, "Time (ms)");
txt(558, 148, "Normalized amplitude", { rotate: true });
txt(590, 154, "RSC neuron number", { rotate: true });
txt(725, 302, "Distance (a.u.)");
["Putative", "inhibitory", "(n = 31)"].forEach((s, i) => txt(762, 60 + i * 15, s, { color: "#f04848", size: 12.5 }));
["Putative", "excitatory", "(n = 130)"].forEach((s, i) => txt(757, 141 + i * 15, s, { color: "#38b838", size: 12.5 }));
["Others", "(n = 9)"].forEach((s, i) => txt(748, 245 + i * 15, s, { color: "#3838e8", size: 12.5 }));

txt(15, 490, "Neuron count", { rotate: true });
txt(150, 375, "Putative", { align: "left" });
txt(150, 390, "excitatory", { align: "left" });
txt(150, 409, "n = 130", { align: "left" });
txt(150, 522, "Putative", { align: "left" });
txt(150, 536, "inhibitory", { align: "left" });
txt(150, 556, "n = 31", { align: "left" });
txt(127, 645, "Mean firing rate during SWS (Hz)");

txt(383, 341, "Excitatory  ->  Inhibitory");
txt(255, 395, "Probability (%)", { rotate: true });
txt(250, 543, "Neuron pair number", { rotate: true });
txt(382, 661, "Time lag (ms)");
txt(513, 548, "Z-score", { rotate: true });

txt(670, 341, "Inhibitory  ->  Excitatory");
txt(535, 395, "Probability (%)", { rotate: true });
txt(535, 543, "Neuron pair number", { rotate: true });
txt(667, 661, "Time lag (ms)");
txt(795, 548, "Z-score", { rotate: true });

const chart = echarts.init(document.getElementById("chart"), null, { renderer: "canvas" });
chart.setOption({
  animation: false,
  backgroundColor: "#fff",
  grid: grids,
  xAxis: xAxes,
  yAxis: yAxes,
  series,
  graphic: texts,
});
</script>
</body>
</html>
